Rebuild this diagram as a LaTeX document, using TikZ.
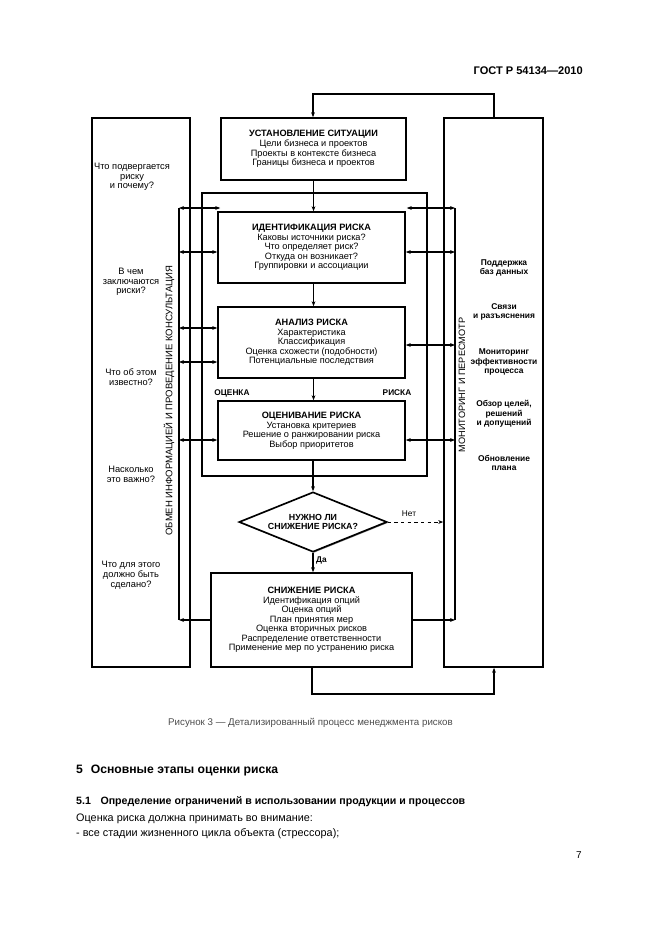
\documentclass[tikz,border=0pt]{standalone}
\usepackage{fontspec}
\setmainfont{Liberation Sans}
\usetikzlibrary{shapes.geometric,arrows.meta,shadows}
\newlength\pxu
\setlength\pxu{0.3177mm}
\tikzset{
  shd/.style={drop shadow={shadow xshift=0.9pt,shadow yshift=-0.9pt,fill=black!45,opacity=1}},
  bx/.style n args={2}{draw,line width=1.5pt,fill=white,inner sep=0pt,align=center,
     minimum width=#1*\pxu,minimum height=#2*\pxu,font=\fontsize{8.3}{8.6}\selectfont,shd},
  panel/.style n args={2}{draw,line width=1.5pt,fill=white,inner sep=0pt,
     minimum width=#1*\pxu,minimum height=#2*\pxu,shd},
  lt/.style={align=center,inner sep=0pt,font=\fontsize{8.4}{8.8}\selectfont},
  rt/.style={align=center,inner sep=0pt,font=\bfseries\fontsize{7.6}{8.8}\selectfont},
  con/.style={line width=1.2pt},
  tip/.style={-{Stealth[length=4.5pt,width=3.5pt]}},
  tips/.style={{Stealth[length=4.5pt,width=3.5pt]}-{Stealth[length=4.5pt,width=3.5pt]}},
}
\begin{document}
\begin{tikzpicture}[x=0.3177mm,y=-0.3177mm]
\useasboundingbox (0,0) rectangle (661,936);
% header
\node[anchor=east,inner sep=0pt,font=\bfseries\fontsize{10}{12}\selectfont] (hdr) at (583,71) {ГОСТ Р 54134—2010};
% panels
\node[panel={98}{549}] (lp) at (141,392.5) {};
\node[panel={99}{549}] (rp) at (493.5,392.5) {};
% frame of risk assessment
\node[panel={225}{283}] (frm) at (314.5,334.5) {};
\node[inner sep=1pt,fill=white,font=\bfseries\fontsize{7.5}{9}\selectfont] (lo) at (232,393) {ОЦЕНКА};
\node[inner sep=1pt,fill=white,font=\bfseries\fontsize{7.5}{9}\selectfont] (lr) at (397,393) {РИСКА};
% boxes
\node[bx={185}{62}] (ust) at (313.5,149) {\textbf{УСТАНОВЛЕНИЕ СИТУАЦИИ}\\Цели бизнеса и проектов\\Проекты в контексте бизнеса\\Границы бизнеса и проектов};
\node[bx={187}{71}] (ident) at (311.5,247.5) {\textbf{ИДЕНТИФИКАЦИЯ РИСКА}\\Каковы источники риска?\\Что определяет риск?\\Откуда он возникает?\\Группировки и ассоциации};
\node[bx={187}{71}] (anal) at (311.5,342.5) {\textbf{АНАЛИЗ РИСКА}\\Характеристика\\Классификация\\Оценка схожести (подобности)\\Потенциальные последствия};
\node[bx={187}{59}] (eval) at (311.5,430.5) {\textbf{ОЦЕНИВАНИЕ РИСКА}\\Установка критериев\\Решение о ранжировании риска\\Выбор приоритетов};
\node[draw,line width=1.5pt,fill=white,diamond,aspect=2.47,inner sep=0pt,minimum width=148*\pxu,minimum height=60*\pxu,align=center,font=\bfseries\fontsize{8}{8.8}\selectfont,shd] (dia) at (313,522) {НУЖНО ЛИ\\СНИЖЕНИЕ РИСКА?};
\node[bx={201}{94}] (red) at (311.5,620) {\textbf{СНИЖЕНИЕ РИСКА}\\Идентификация опций\\Оценка опций\\План принятия мер\\Оценка вторичных рисков\\Распределение ответственности\\Применение мер по устранению риска};
% left texts
\node[lt] (q1) at (132,177) {Что подвергается\\риску\\и почему?};
\node[lt] (q2) at (131,282) {В чем\\заключаются\\риски?};
\node[lt] (q3) at (131,377.5) {Что об этом\\известно?};
\node[lt] (q4) at (131,474) {Насколько\\это важно?};
\node[lt] (q5) at (131,575) {Что для этого\\должно быть\\сделано?};
\node[lt,rotate=90,font=\fontsize{8.6}{9}\selectfont] (obm) at (169,400.5) {ОБМЕН ИНФОРМАЦИЕЙ И ПРОВЕДЕНИЕ КОНСУЛЬТАЦИЯ};
% right texts
\node[rt] (r1) at (504,268) {Поддержка\\баз данных};
\node[rt] (r2) at (504,312) {Связи\\и разъяснения};
\node[rt] (r3) at (504,362) {Мониторинг\\эффективности\\процесса};
\node[rt] (r4) at (504,414) {Обзор целей,\\решений\\и допущений};
\node[rt] (r5) at (504,463) {Обновление\\плана};
\node[lt,rotate=90,font=\fontsize{8.3}{9}\selectfont] (mon) at (462,385) {МОНИТОРИНГ И ПЕРЕСМОТР};
% buses
\coordinate (lbt) at (179,208);
\coordinate (lbb) at (179,620);
\coordinate (rbt) at (455,208);
\coordinate (rbb) at (455,620);
\draw[line width=1pt] (lbt) -- (lbb);
\draw[line width=1.3pt] (rbt) -- (rbb);
% left connectors
\coordinate (l1) at (179,208);
\coordinate (l2) at (179,252);
\coordinate (l3) at (179,328);
\coordinate (l4) at (179,362);
\coordinate (l5) at (179,440);
\draw[con,tips] (l1) -- (ust.west |- l1);
\draw[con,tips] (l2) -- (ident.west |- l2);
\draw[con,tips] (l3) -- (anal.west |- l3);
\draw[con,tips] (l4) -- (anal.west |- l4);
\draw[con,tips] (l5) -- (eval.west |- l5);
\draw[con,tip] (red.west) -- (lbb);
% right connectors
\coordinate (r1c) at (455,208);
\coordinate (r2c) at (455,252);
\coordinate (r3c) at (455,345);
\coordinate (r4c) at (455,440);
\draw[con,tips] (ust.east |- r1c) -- (r1c);
\draw[con,tips] (ident.east |- r2c) -- (r2c);
\draw[con,tips] (anal.east |- r3c) -- (r3c);
\draw[con,tips] (eval.east |- r4c) -- (r4c);
\draw[con,tip] (red.east) -- (rbb);
% main flow
\draw[con,tip] (ust.south) -- (ust.south |- ident.north);
\draw[con,tip] (ident.south -| ust.south) -- (ust.south |- anal.north);
\draw[con,tip] (anal.south -| ust.south) -- (ust.south |- eval.north);
\draw[con,tip] (eval.south -| dia.north) -- (dia.north);
\draw[con,tip] (dia.south) -- (dia.south |- red.north);
\node[anchor=west,inner sep=0pt,font=\bfseries\fontsize{7.5}{9}\selectfont] (da) at (316,560) {Да};
\draw[con,tip,dashed,line width=0.8pt] (dia.east) -- (rp.west |- dia.east);
\node[inner sep=0pt,font=\fontsize{7.5}{9}\selectfont] (net) at (409,514) {Нет};
% feedback loops
\coordinate (ft1) at (494,94);
\coordinate (ft2) at (313,94);
\draw[con,tip] (rp.north -| ft1) -- (ft1) -- (ft2) -- (ust.north -| ft2);
\coordinate (fb1) at (312,694);
\coordinate (fb2) at (494,694);
\draw[con,tip] (red.south -| fb1) -- (fb1) -- (fb2) -- (rp.south -| fb2);
% caption and text
\node[anchor=west,inner sep=0pt,text=black!70,font=\fontsize{8.8}{10}\selectfont] (cap) at (168,723) {Рисунок 3 — Детализированный процесс менеджмента рисков};
\node[anchor=west,inner sep=0pt,font=\bfseries\fontsize{11}{13}\selectfont] (s5) at (76,771) {5\hspace{0.65em}Основные этапы оценки риска};
\node[anchor=west,inner sep=0pt,font=\bfseries\fontsize{9.6}{12}\selectfont] (s51) at (76,802) {5.1\hspace{0.9em}Определение ограничений в использовании продукции и процессов};
\node[anchor=west,inner sep=0pt,font=\fontsize{9.8}{12}\selectfont] (p1) at (76,819) {Оценка риска должна принимать во внимание:};
\node[anchor=west,inner sep=0pt,font=\fontsize{9.8}{12}\selectfont] (p2) at (76,834) {- все стадии жизненного цикла объекта (стрессора);};
\node[inner sep=0pt,font=\fontsize{9}{11}\selectfont] (pg) at (579,855) {7};
\end{tikzpicture}
\end{document}
